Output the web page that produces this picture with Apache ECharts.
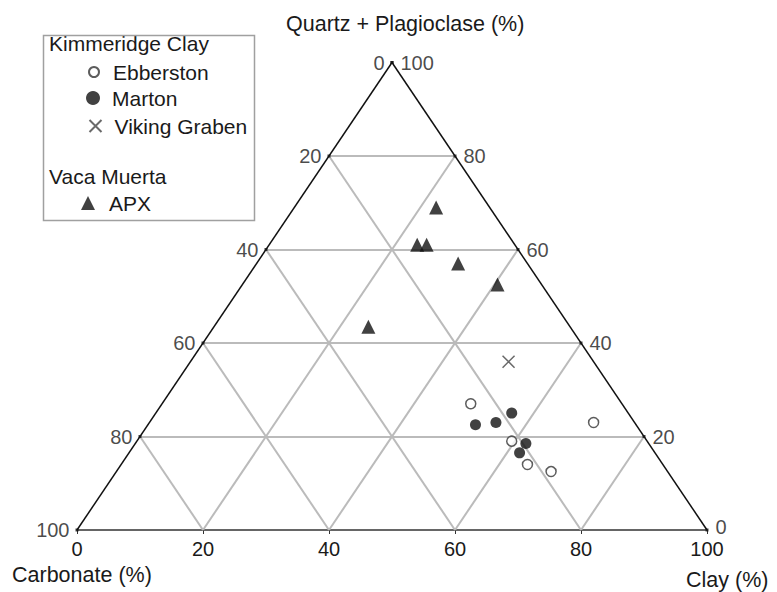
<!DOCTYPE html>
<html>
<head>
<meta charset="utf-8">
<script src="https://cdn.jsdelivr.net/npm/echarts@6/dist/echarts.min.js"></script>
<style>html,body{margin:0;padding:0;background:#fff;}#c{width:777px;height:592px;}</style>
</head>
<body>
<div id="c"></div>
<script>
// ---- Data (ternary compositions, %) ----
const ticks = [0, 20, 40, 60, 80, 100];
const gridValues = [20, 40, 60, 80];

const ebberstonQuartz    = [27, 23, 19, 14, 12.5];
const ebberstonCarbonate = [24, 6.5, 21.5, 21.5, 18.5];
const ebberstonClay      = [49, 70.5, 59.5, 64.5, 69];

const martonQuartz    = [25, 23, 22.5, 18.5, 16.5];
const martonCarbonate = [18.5, 22, 25.5, 19.5, 21.5];
const martonClay      = [56.5, 55, 52, 62, 62];

const vikingQuartz    = [36];
const vikingCarbonate = [13.5];
const vikingClay      = [50.5];

const apxQuartz    = [69, 61, 61, 57, 52.5, 43.5];
const apxCarbonate = [8.5, 15.5, 14, 11, 7, 32];
const apxClay      = [22.5, 23.5, 25, 32, 40.5, 24.5];

// ---- ternary -> cartesian (x: clay + quartz/2, y: quartz) ----
function tern(q, cb, cl) {
  const s = q + cb + cl;
  return [(cl + q / 2) / s * 100, q / s * 100];
}
function pts(Q, Cb, Cl) { return Q.map((q, i) => tern(q, Cb[i], Cl[i])); }

const gridLines = [];
gridValues.forEach(v => {
  gridLines.push({coords: [tern(v, 100 - v, 0), tern(v, 0, 100 - v)]});       // quartz = v
  gridLines.push({coords: [tern(0, 100 - v, v), tern(100 - v, 0, v)]});       // clay = v
  gridLines.push({coords: [tern(0, v, 100 - v), tern(100 - v, v, 0)]});       // carbonate = v
});
const edges = [
  {coords: [tern(0, 100, 0), tern(100, 0, 0)]},
  {coords: [tern(100, 0, 0), tern(0, 0, 100)]}
];

const leftTicks = ticks.map(c => ({name: String(c), value: tern(100 - c, c, 0)}));   // carbonate
const rightTicks = ticks.map(q => ({name: String(q), value: tern(q, 0, 100 - q),
  label: q === 0 ? {offset: [0, -3]} : undefined}));  // quartz

const FONT = 'Liberation Sans, Arial, sans-serif';
const chart = echarts.init(document.getElementById('c'), null, {renderer: 'svg'});
const xPath = 'path://M0,0L10,10M10,0L0,10';

function leg(name, left, top, size, pad) {
  return {
    data: [name], orient: 'vertical', left: left, top: top,
    itemWidth: size, itemHeight: size, selectedMode: false, padding: 0,
    textStyle: {fontSize: 21, color: '#1a1a1a', fontFamily: FONT, lineHeight: 21, padding: [0, 0, 0, pad]}
  };
}

chart.setOption({
  animation: false,
  backgroundColor: '#fff',
  grid: {left: 77, right: 70, top: 62.5, bottom: 62, containLabel: false},
  xAxis: {
    type: 'value', min: 0, max: 100, interval: 20,
    axisLine: {lineStyle: {color: '#333', width: 1.5}},
    axisTick: {show: true, length: 4, lineStyle: {color: '#333'}},
    axisLabel: {fontSize: 20, color: '#1a1a1a', fontFamily: FONT, margin: 9},
    splitLine: {show: false}
  },
  yAxis: {type: 'value', min: 0, max: 100, show: false, splitLine: {show: false}},
  title: {
    text: 'Quartz + Plagioclase (%)', left: 281, top: 8,
    textStyle: {fontSize: 21.5, fontWeight: 'normal', color: '#1a1a1a', fontFamily: FONT}
  },
  legend: [
    leg('Ebberston', 88, 61.5, 10, 9),
    leg('Marton', 86, 87.5, 14, 7),
    leg('Viking Graben', 87, 115.5, 12, 8),
    leg('APX', 81, 192.5, 14, 9)
  ],
  graphic: [
    {type: 'rect', left: 41, top: 33, shape: {width: 211, height: 185},
     style: {fill: 'none', stroke: '#a0a0a0', lineWidth: 1.5}, z: 10},
    {type: 'text', left: 49, top: 33, style: {text: 'Kimmeridge Clay', fontSize: 21, fill: '#1a1a1a', fontFamily: FONT}},
    {type: 'text', left: 49, top: 166, style: {text: 'Vaca Muerta', fontSize: 21, fill: '#1a1a1a', fontFamily: FONT}},
    {type: 'text', left: 12, top: 564, style: {text: 'Carbonate (%)', fontSize: 21.5, fill: '#1a1a1a', fontFamily: FONT}},
    {type: 'text', left: 686, top: 569, style: {text: 'Clay (%)', fontSize: 21.5, fill: '#1a1a1a', fontFamily: FONT}}
  ],
  series: [
    {type: 'lines', coordinateSystem: 'cartesian2d', data: gridLines, silent: true, z: 1,
     lineStyle: {color: '#bbbbbb', width: 2, opacity: 1}},
    {type: 'lines', coordinateSystem: 'cartesian2d', data: edges, silent: true, z: 2,
     lineStyle: {color: '#111', width: 1.5, opacity: 1}},
    {type: 'scatter', data: leftTicks, symbol: 'rect', symbolSize: 3, z: 3, silent: true,
     itemStyle: {color: '#111'},
     label: {show: true, position: 'left', distance: 6, formatter: p => p.name,
             fontSize: 20, color: '#1a1a1a', fontFamily: FONT}},
    {type: 'scatter', data: rightTicks, symbol: 'rect', symbolSize: 3, z: 3, silent: true,
     itemStyle: {color: '#111'},
     label: {show: true, position: 'right', distance: 7, formatter: p => p.name,
             fontSize: 20, color: '#1a1a1a', fontFamily: FONT}},
    {name: 'Ebberston', type: 'scatter', data: pts(ebberstonQuartz, ebberstonCarbonate, ebberstonClay),
     symbol: 'circle', symbolSize: 10, z: 5,
     itemStyle: {color: '#fff', borderColor: '#333', borderWidth: 1.5}},
    {name: 'Marton', type: 'scatter', data: pts(martonQuartz, martonCarbonate, martonClay),
     symbol: 'circle', symbolSize: 11, z: 5,
     itemStyle: {color: '#111'}},
    {name: 'Viking Graben', type: 'scatter', data: pts(vikingQuartz, vikingCarbonate, vikingClay),
     symbol: xPath, symbolSize: 12, z: 5,
     itemStyle: {color: 'none', borderColor: '#444', borderWidth: 1.5}},
    {name: 'APX', type: 'scatter', data: pts(apxQuartz, apxCarbonate, apxClay),
     symbol: 'triangle', symbolSize: 14, z: 5,
     itemStyle: {color: '#111'}}
  ]
});
</script>
</body>
</html>
